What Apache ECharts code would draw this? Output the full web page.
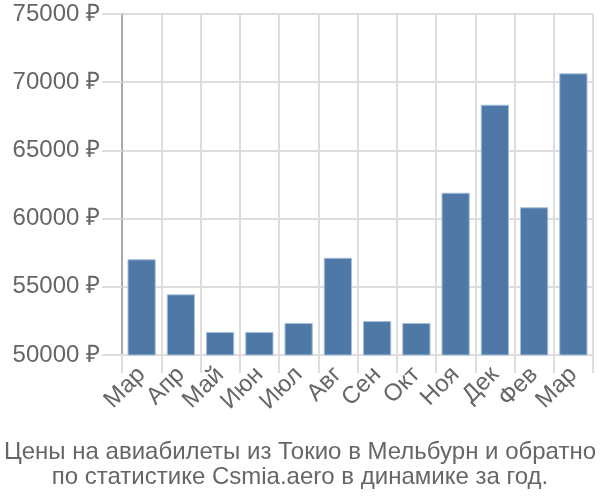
<!DOCTYPE html>
<html><head><meta charset="utf-8">
<script src="https://cdn.jsdelivr.net/npm/echarts@6/dist/echarts.min.js"></script>
<style>html,body{margin:0;padding:0;background:#fff}#c{width:600px;height:500px}</style>
</head><body><div id="c"></div>
<script>
const categories = ['Мар','Апр','Май','Июн','Июл','Авг','Сен','Окт','Ноя','Дек','Фев','Мар'];
const prices = [57020, 54450, 51690, 51690, 52350, 57130, 52490, 52350, 61900, 68350, 60830, 70650];
const yTicks = [50000, 55000, 60000, 65000, 70000, 75000];
const titleLines = ['Цены на авиабилеты из Токио в Мельбурн и обратно', 'по статистике Csmia.aero в динамике за год.'];

const FONT = 'Liberation Sans';
const chart = echarts.init(document.getElementById('c'), null, {renderer:'canvas'});
chart.setOption({
  animation: false,
  title: {
    text: titleLines.join('\n'),
    left: 'center', top: 435,
    textStyle: {fontFamily: FONT, fontSize: 24, fontWeight: 'normal', color: '#666', lineHeight: 25}
  },
  grid: {left: 122, right: 7, top: 14, bottom: 145, containLabel: false},
  xAxis: {
    type: 'category', data: categories, boundaryGap: true,
    axisLine: {show: true, lineStyle: {color: '#ddd', width: 2}},
    axisTick: {show: true, length: 18, lineStyle: {color: '#ddd', width: 2}},
    splitLine: {show: true, lineStyle: {color: '#ddd', width: 2}},
    axisLabel: {rotate: 45, fontFamily: FONT, fontSize: 24, color: '#666', margin: 16, interval: 0}
  },
  yAxis: {
    type: 'value', min: yTicks[0], max: yTicks[yTicks.length-1], interval: 5000,
    axisLine: {show: true, lineStyle: {color: '#aaa', width: 2}},
    axisTick: {show: true, length: 20, lineStyle: {color: '#ddd', width: 2}},
    splitLine: {show: true, lineStyle: {color: '#ddd', width: 2}},
    axisLabel: {fontFamily: FONT, fontSize: 24, color: '#666', margin: 22, formatter: v => v + ' ₽'}
  },
  series: [{
    type: 'bar', data: prices, barCategoryGap: '28%',
    itemStyle: {color: '#4e79a7', borderColor: '#a8c0dc', borderWidth: 1}
  }]
});
</script></body></html>
